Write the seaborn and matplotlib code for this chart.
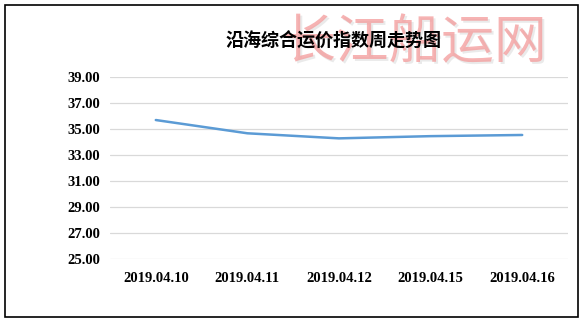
import matplotlib
matplotlib.use("Agg")
import matplotlib.pyplot as plt
import seaborn as sns
import pandas as pd
from matplotlib.patches import Rectangle

dates = ["2019.04.10", "2019.04.11", "2019.04.12", "2019.04.15", "2019.04.16"]
values = [35.69, 34.67, 34.28, 34.45, 34.54]
yticks = [25, 27, 29, 31, 33, 35, 37, 39]
title = "沿海综合运价指数周走势图"
watermark = "长江船运网"

sns.set_theme(style="white")
plt.rcParams['font.family'] = ['Noto Sans CJK SC', 'DejaVu Sans']

df = pd.DataFrame({"date": dates, "value": values})

fig = plt.figure(figsize=(5.86, 3.24), dpi=100)
ax = fig.add_axes([110/586, 1-259/324, (568-110)/586, (259-77)/324])

sns.lineplot(data=df, x="date", y="value", ax=ax, color="#5b9bd5", linewidth=1.8, sort=False)

ax.set_xlim(-0.5, len(dates)-0.5)
ax.set_ylim(25, 39)
ax.set_yticks(yticks)
ax.set_yticklabels([f"{v:.2f}" for v in yticks])
ax.set_xlabel("")
ax.set_ylabel("")
ax.grid(axis="y", color="#d9d9d9", linewidth=0.9)
ax.grid(axis="x", visible=False)
for s in ax.spines.values():
    s.set_visible(False)
ax.tick_params(axis="both", length=0)
ax.tick_params(axis="y", pad=7)
ax.tick_params(axis="x", pad=9)
for lbl in ax.get_xticklabels() + ax.get_yticklabels():
    lbl.set_fontfamily(["Liberation Serif", "DejaVu Serif"])
    lbl.set_fontweight("bold")
    lbl.set_fontsize(10.5)
    lbl.set_color("black")

# watermark
fig.text(415/586 + 0.003, 1-43/324 - 0.006, watermark, ha="center", va="center", fontsize=38,
         color="#bbbbbb", alpha=0.3, zorder=1)
fig.text(415/586, 1-43/324, watermark, ha="center", va="center", fontsize=38,
         color="#f4a0a0", alpha=0.8, zorder=2)

fig.text(334/586, 1-41/324, title, ha="center", va="center", fontsize=13,
         fontweight="bold", color="black", zorder=3)

fig.patches.append(Rectangle((5/586, 1-317/324), (578-5)/586, (317-5)/324,
                             transform=fig.transFigure, fill=False,
                             edgecolor="black", linewidth=1.2))

fig.savefig("out.png", dpi=100)
